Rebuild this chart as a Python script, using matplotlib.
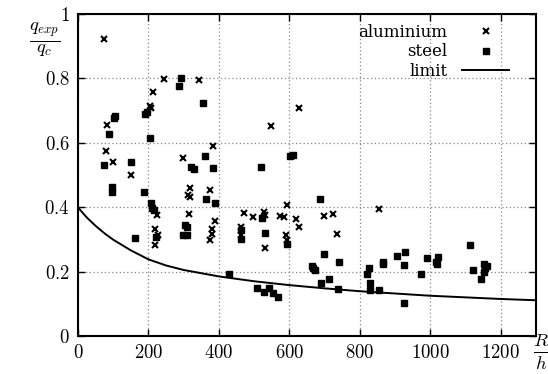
import matplotlib
matplotlib.use("Agg")
import matplotlib.pyplot as plt
from matplotlib.ticker import FuncFormatter

plt.rcParams['mathtext.fontset'] = 'cm'
plt.rcParams['font.family'] = ['DejaVu Serif']

# aluminium specimens (R/h, q_exp/q_c)
alu_x = [74, 83, 80, 203, 212, 206, 384, 375, 389, 471, 496, 528, 531, 572, 585, 593,
         619, 627, 627, 549, 854, 697, 723, 735, 531, 318, 312, 319, 314, 225, 218, 227,
         219, 380, 380, 375, 462, 462, 590, 592, 299, 243, 344, 150, 100]
alu_y = [0.921, 0.655, 0.576, 0.713, 0.758, 0.709, 0.589, 0.452, 0.357, 0.382, 0.370, 0.385,
         0.377, 0.373, 0.370, 0.406, 0.362, 0.338, 0.709, 0.651, 0.393, 0.373, 0.378, 0.316,
         0.272, 0.460, 0.439, 0.432, 0.379, 0.377, 0.332, 0.315, 0.282, 0.332, 0.318, 0.298,
         0.339, 0.313, 0.313, 0.298, 0.554, 0.797, 0.796, 0.501, 0.539]

# steel specimens
steel_x = [293, 287, 189, 196, 104, 101, 87, 203, 74, 150, 322, 356, 361, 602, 610, 330,
           384, 519, 97, 97, 187, 208, 210, 215, 222, 161, 303, 308, 298, 310, 362, 388,
           521, 530, 462, 462, 594, 429, 507, 528, 542, 553, 569, 687, 698, 741, 663, 668,
           673, 689, 713, 739, 826, 820, 829, 829, 855, 865, 867, 905, 928, 924, 924, 973,
           990, 1016, 1023, 1018, 1113, 1121, 1144, 1153, 1162, 1156, 1151]
steel_y = [0.802, 0.775, 0.690, 0.696, 0.682, 0.678, 0.627, 0.616, 0.531, 0.540, 0.525,
           0.723, 0.560, 0.560, 0.562, 0.520, 0.523, 0.524, 0.463, 0.447, 0.447, 0.414,
           0.399, 0.391, 0.308, 0.305, 0.344, 0.337, 0.313, 0.313, 0.425, 0.414, 0.367,
           0.321, 0.329, 0.301, 0.287, 0.191, 0.150, 0.137, 0.150, 0.132, 0.121, 0.425,
           0.255, 0.230, 0.217, 0.210, 0.205, 0.165, 0.177, 0.145, 0.212, 0.194, 0.165,
           0.143, 0.143, 0.230, 0.223, 0.248, 0.261, 0.222, 0.101, 0.194, 0.241, 0.229,
           0.246, 0.223, 0.282, 0.205, 0.176, 0.225, 0.218, 0.210, 0.200]

# limit curve
limit_x = [0, 12, 25, 50, 75, 100, 150, 200, 250, 300, 400, 500, 600, 700, 800, 900,
           1000, 1100, 1200, 1300]
limit_y = [0.400, 0.384, 0.368, 0.342, 0.319, 0.299, 0.266, 0.238, 0.219, 0.205, 0.185,
           0.170, 0.158, 0.148, 0.139, 0.132, 0.125, 0.120, 0.115, 0.111]

x_ticks = [0, 200, 400, 600, 800, 1000, 1200]
y_ticks = [0, 0.2, 0.4, 0.6, 0.8, 1]

fig = plt.figure(figsize=(5.48, 3.74), dpi=100)
ax = fig.add_axes([78/548, 38/374, (536-78)/548, (336-14)/374])

ax.plot(alu_x, alu_y, linestyle='none', marker='x', ms=4.2, mew=1.5, color='black',
        label='aluminium')
ax.plot(steel_x, steel_y, linestyle='none', marker='s', ms=3.8, color='black',
        label='steel')
ax.plot(limit_x, limit_y, color='black', lw=1.4, label='limit')

ax.set_xlim(0, 1300)
ax.set_ylim(0, 1)
ax.set_xticks(x_ticks)
ax.set_yticks(y_ticks)
ax.xaxis.set_major_formatter(FuncFormatter(lambda v, p: '$%g$' % v))
ax.yaxis.set_major_formatter(FuncFormatter(lambda v, p: '$%g$' % v))
ax.tick_params(direction='in', top=True, right=True, length=5, width=1,
               labelsize=13.5, pad=6)
ax.grid(True, linestyle=(0, (1, 2)), color='#888888', lw=0.9)
for s in ax.spines.values():
    s.set_linewidth(1.5)

fig.text(45/548, 1 - 40/374, r'$\frac{q_{exp}}{q_c}$', fontsize=19,
         ha='center', va='center')
fig.text(541/548, 1 - 352/374, r'$\frac{R}{h}$', fontsize=19,
         ha='center', va='center')

leg = ax.legend(loc='upper right', bbox_to_anchor=(0.963, 1.0), frameon=False,
                markerfirst=False,
                prop={'family': 'DejaVu Serif', 'size': 12}, handlelength=2.8,
                labelspacing=0.15, borderaxespad=0.2, handletextpad=0.9)

fig.savefig('out.png', dpi=100)
